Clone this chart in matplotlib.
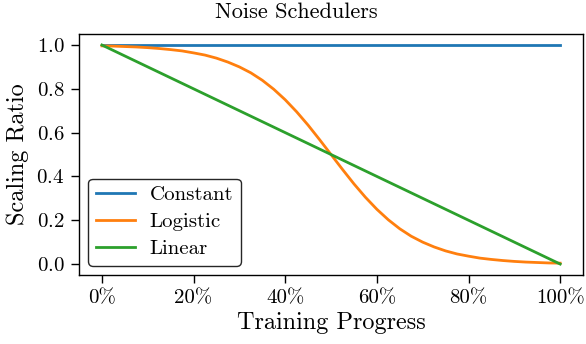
import matplotlib
matplotlib.use("Agg")
import matplotlib.pyplot as plt
from matplotlib.ticker import PercentFormatter

plt.rcParams["font.family"] = ["cmr10", "DejaVu Serif"]
plt.rcParams["mathtext.fontset"] = "cm"
plt.rcParams["axes.formatter.use_mathtext"] = True

# training progress (fraction of run) and scaling ratio per scheduler
progress = [i * 0.025 for i in range(41)]
constant = [1.0] * 41
linear = [1.0 - p for p in progress]
logistic = [
    0.996, 0.995, 0.993, 0.991, 0.988, 0.984, 0.979, 0.973, 0.964, 0.954,
    0.940, 0.922, 0.900, 0.873, 0.839, 0.798, 0.750, 0.695, 0.634, 0.568,
    0.500, 0.432, 0.366, 0.305, 0.250, 0.202, 0.161, 0.127, 0.100, 0.078,
    0.060, 0.046, 0.036, 0.027, 0.021, 0.016, 0.012, 0.009, 0.007, 0.005,
    0.004,
]

fig = plt.figure(figsize=(5.86, 3.44), dpi=100)
ax = fig.add_axes([0.1348, 0.2006, 0.8602, 0.7004])

ax.plot(progress, constant, color="#1f77b4", lw=2.0, label="Constant")
ax.plot(progress, logistic, color="#ff7f0e", lw=2.0, label="Logistic")
ax.plot(progress, linear, color="#2ca02c", lw=2.0, label="Linear")

ax.xaxis.set_major_formatter(PercentFormatter(xmax=1, decimals=0))
ax.set_xticks([0, 0.2, 0.4, 0.6, 0.8, 1.0])
ax.set_yticks([0, 0.2, 0.4, 0.6, 0.8, 1.0])
ax.tick_params(labelsize=15, width=1.0, length=6, pad=4.5)
for s in ax.spines.values():
    s.set_linewidth(1.0)
ax.set_xlabel("Training Progress", fontsize=17.5, labelpad=3)
ax.set_ylabel("Scaling Ratio", fontsize=17.5, labelpad=5)
# title sits centred on the whole figure, not on the axes
fig.text(0.505, 0.993, "Noise Schedulers", fontsize=16, ha="center", va="top")

leg = ax.legend(loc="lower left", fontsize=15, framealpha=1,
                handlelength=1.9, handletextpad=0.7, labelspacing=0.4,
                borderpad=0.35, borderaxespad=0.45)
leg.get_frame().set_edgecolor("0.15")

fig.savefig("out.png", dpi=100)
